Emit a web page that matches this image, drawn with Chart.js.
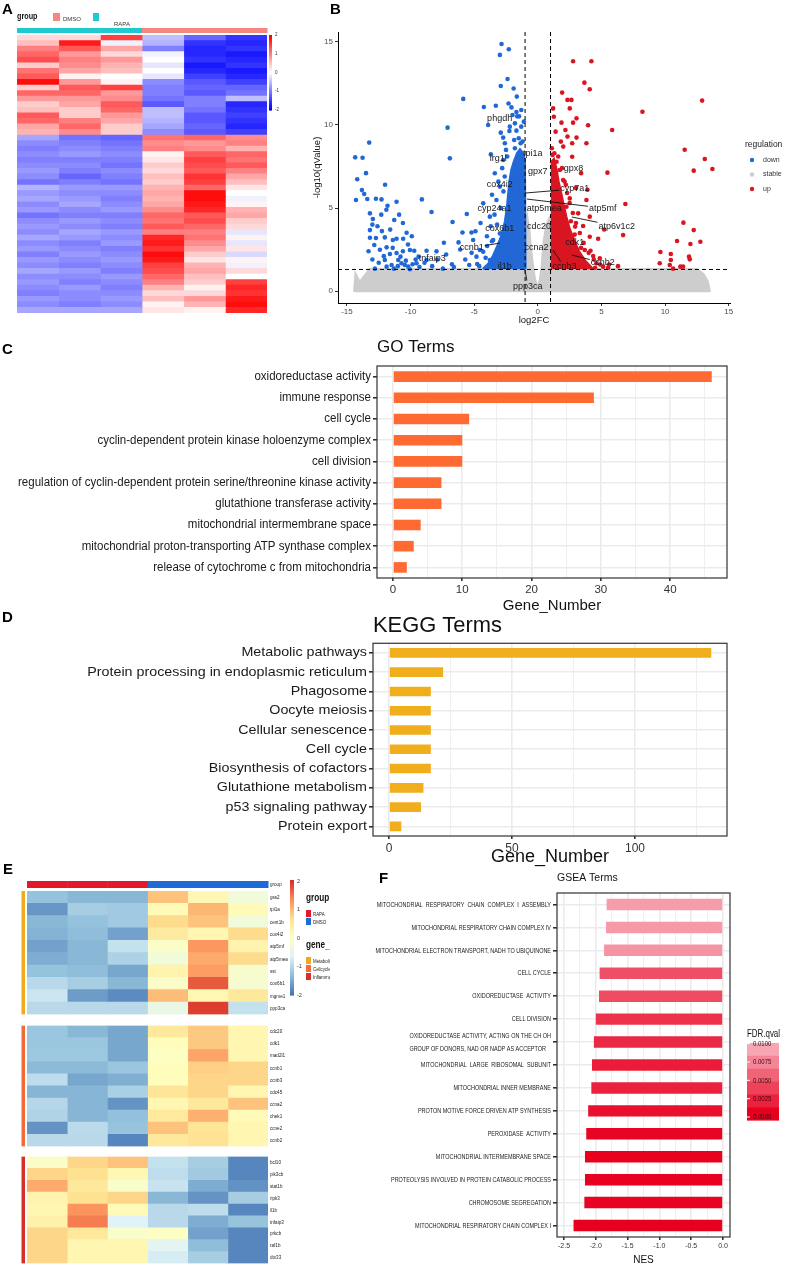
<!DOCTYPE html>
<html><head><meta charset="utf-8">
<script src="https://cdn.jsdelivr.net/npm/chart.js@4.4.1/dist/chart.umd.min.js"></script>
<style>
body{margin:0;background:#fff;}
#fig{position:relative;width:785px;height:1269px;overflow:hidden;background:#fff;}
canvas{position:absolute;}
.lab{position:absolute;font:bold 15px "Liberation Sans",Arial,sans-serif;color:#000;line-height:15px;}
</style></head><body>
<div id="fig">
<canvas id="cvA" width="290" height="318" style="left:0;top:0"></canvas>
<canvas id="cvB" width="495" height="326" style="left:290px;top:0"></canvas>
<canvas id="cvC" width="785" height="285" style="left:0;top:330px"></canvas>
<canvas id="cvD" width="785" height="258" style="left:0;top:610px"></canvas>
<canvas id="cvE1" width="330" height="158" style="left:0;top:862px"></canvas>
<canvas id="cvE2" width="330" height="132" style="left:0;top:1020px"></canvas>
<canvas id="cvE3" width="330" height="118" style="left:0;top:1151px"></canvas>
<canvas id="cvF" width="425" height="407" style="left:360px;top:862px"></canvas>
<div class="lab" style="left:2px;top:1px">A</div>
<div class="lab" style="left:330px;top:1px">B</div>
<div class="lab" style="left:2px;top:341px">C</div>
<div class="lab" style="left:2px;top:609px">D</div>
<div class="lab" style="left:3px;top:861px">E</div>
<div class="lab" style="left:379px;top:870px">F</div>
</div>
<script>
// ---------- panel A: heatmap of DEGs ----------
var samplesA = ['RAPA1', 'RAPA2', 'RAPA3', 'DMSO1', 'DMSO2', 'DMSO3'];
var groupA = ['RAPA', 'RAPA', 'RAPA', 'DMSO', 'DMSO', 'DMSO'];
var heatA = [
  [0.3, 0.3, 1.5, -0.5, -1.2, -1.6], [0.5, 1.8, -0.1, -0.6, -1.6, -1.7],
  [1.0, 1.3, 0.7, -1.0, -1.7, -1.6], [1.2, 0.8, 0.3, -0.1, -1.7, -1.8],
  [1.4, 1.0, 0.8, 0.0, -1.6, -1.7], [0.4, 0.9, 0.6, -0.2, -1.8, -1.6],
  [1.1, 0.7, 0.5, 0.0, -1.7, -1.8], [1.3, 0.1, 0.0, -0.2, -1.5, -1.7],
  [1.9, 0.8, 0.1, -0.9, -1.3, -1.5], [0.4, 1.3, 1.5, -1.0, -1.2, -1.2],
  [1.2, 1.2, 0.8, -1.0, -1.3, -1.1], [0.8, 0.8, 0.9, -1.1, -1.0, -0.5],
  [0.4, 0.7, 1.3, -1.3, -1.0, -1.7], [0.5, 0.4, 1.2, -0.5, -1.1, -1.6],
  [1.3, 0.4, 0.8, -0.5, -1.3, -1.5], [1.2, 1.0, 0.7, -0.6, -1.3, -1.6],
  [0.7, 1.2, 0.4, -0.7, -1.2, -1.7], [0.6, 0.9, 0.4, -0.9, -1.3, -1.5],
  [-0.7, -1.1, -1.2, 1.1, 1.2, 0.9], [-0.9, -1.0, -1.1, 0.9, 0.8, 1.0],
  [-1.0, -0.9, -1.0, 1.0, 0.9, 0.6], [-0.9, -0.8, -0.9, 0.1, 1.3, 1.2],
  [-1.0, -1.0, -1.0, 0.2, 1.5, 1.1], [-0.9, -0.9, -1.1, 0.4, 1.4, 1.3],
  [-0.8, -1.0, -0.9, 0.3, 1.3, 1.0], [-0.9, -1.2, -1.0, 0.5, 1.6, 0.7],
  [-1.1, -1.0, -1.1, 0.4, 1.5, 0.5], [-0.6, -0.8, -0.8, 0.6, 1.2, 0.2],
  [-0.8, -0.9, -0.9, 0.7, 1.9, 0.0], [-0.7, -0.8, -1.0, 0.6, 1.9, -0.1],
  [-0.9, -0.7, -0.9, 0.7, 1.8, 0.1], [-0.8, -0.9, -0.8, 0.9, 1.7, 0.6],
  [-1.1, -1.0, -1.0, 1.2, 1.3, 0.7], [-0.9, -0.8, -0.9, 1.1, 1.4, 0.4],
  [-0.8, -0.9, -1.0, 1.3, 1.2, 0.3], [-0.9, -0.7, -0.8, 1.0, 1.0, -0.2],
  [-0.7, -0.8, -0.9, 1.7, 1.1, 0.1], [-0.9, -1.0, -0.8, 1.8, 0.9, -0.2],
  [-0.8, -0.9, -1.0, 1.6, 0.7, 0.2], [-1.0, -0.8, -0.9, 1.9, 0.4, -0.3],
  [-0.8, -0.9, -0.8, 1.8, 0.2, 0.1], [-0.9, -1.0, -0.9, 1.5, 0.6, -0.1],
  [-0.7, -0.8, -1.0, 1.4, 0.7, 0.3], [-0.9, -0.9, -0.8, 1.2, 0.5, 0.0],
  [-0.8, -1.0, -0.9, 1.0, 0.4, 1.5], [-0.9, -0.8, -1.0, 0.6, 0.1, 1.7],
  [-1.0, -0.9, -0.9, 0.3, 0.3, 1.6], [-0.8, -0.9, -0.8, 0.5, 0.8, 1.8],
  [-0.9, -1.0, -0.9, 0.1, 0.6, 1.9], [-0.7, -0.7, -0.7, 0.2, 0.1, 1.7]
];
var scaleTicksA = [2, 1, 0, -1, -2];

// ---------- panel B: volcano ----------
var volcanoXTicks = [-15, -10, -5, 0, 5, 10, 15];
var volcanoYTicks = [0, 5, 10, 15];
var fcCut = 1, qCut = 1.3;
var stableEdge = [[-14.4, -0.05], [-14.3, 0.95], [-14.0, 0.5], [-13.6, 0.9], [-13.2, 1.3], [-12, 1.3], [-10, 1.3], [-8, 1.3],
  [-6, 1.3], [-4, 1.3], [-2, 1.3], [-1.05, 1.3], [-1.0, 4.0], [-0.85, 4.4], [-0.7, 3.6], [-0.55, 2.4], [-0.4, 1.4],
  [-0.25, 0.7], [-0.1, 0.35], [0.05, 0.3], [0.2, 0.7], [0.35, 1.6], [0.5, 3.0], [0.7, 4.0], [0.9, 4.3], [1.0, 3.8],
  [1.05, 1.3], [3, 1.3], [6, 1.3], [9, 1.3], [11, 1.3], [12.5, 1.3], [13.0, 1.0], [13.3, 0.6], [13.5, -0.05]];
var downDense = [[-4.3, 1.32], [-3.9, 1.6], [-3.5, 2.1], [-3.1, 2.8], [-2.8, 3.4], [-2.55, 4.2], [-2.4, 5.0], [-2.3, 5.8],
  [-2.2, 6.6], [-2.05, 7.3], [-1.85, 7.8], [-1.6, 8.3], [-1.4, 8.5], [-1.2, 8.3], [-1.05, 7.9], [-1.0, 1.32]];
var upDense = [[1.0, 7.7], [1.25, 7.9], [1.45, 7.3], [1.6, 6.6], [1.8, 5.9], [2.0, 5.2], [2.2, 4.5], [2.45, 3.8],
  [2.8, 3.1], [3.2, 2.4], [3.7, 1.8], [4.3, 1.32]];
var downPoints = [[-2.85, 14.88], [-2.28, 14.56], [-2.98, 14.22], [-2.38, 12.77], [-2.91, 12.35], [-5.86, 11.57],
  [-4.24, 11.08], [-3.3, 11.16], [-2.3, 11.29], [-1.65, 11.71], [-2.07, 11.06], [-1.68, 10.78], [-1.99, 10.6],
  [-1.62, 10.52], [-1.47, 10.52], [-7.09, 9.84], [-3.9, 10.0], [-2.91, 9.54], [-2.23, 9.64], [-1.68, 9.66],
  [-2.72, 9.24], [-1.86, 9.1], [-13.25, 8.94], [-14.35, 8.05], [-13.77, 8.03], [-6.91, 7.99], [-3.69, 8.23],
  [-14.19, 6.73], [-13.82, 6.08], [-13.64, 5.84], [-14.29, 5.48], [-13.4, 5.54], [-12.72, 5.56], [-12.28, 5.52],
  [-11.81, 5.14], [-9.11, 5.52], [-8.35, 4.76], [-11.1, 5.38], [-13.19, 4.68], [-12.96, 4.34], [-11.28, 4.28],
  [-10.6, 4.1], [-6.7, 4.16], [-5.58, 4.64], [-5.92, 3.53], [-5.21, 3.53], [-6.23, 2.93], [-7.38, 2.91],
  [-13.19, 3.67], [-13.19, 3.21], [-12.85, 2.77], [-12.41, 2.49], [-11.88, 2.63], [-11.39, 3.07], [-11.1, 3.15],
  [-10.58, 3.15], [-10.31, 3.51], [-12.25, 3.61], [-12.02, 3.23], [-12.72, 3.19], [-12.02, 1.87], [-11.62, 2.23],
  [-11.1, 2.29], [-10.79, 2.07], [-10.37, 1.83], [-10.05, 2.47], [-9.71, 2.43], [-9.37, 2.07], [-9.84, 1.61],
  [-8.74, 2.43], [-7.96, 2.39], [-8.74, 1.87], [-7.46, 1.35], [-6.75, 1.61], [-5.39, 1.57], [-4.76, 1.63],
  [-4.29, 2.37], [-3.98, 2.71], [-3.51, 3.07], [-5.08, 3.07], [-4.55, 2.47], [-12.8, 1.35], [-11.31, 1.35],
  [-10.05, 1.31], [-10.71, 1.67], [-10.45, 1.57], [-10.18, 1.47], [-9.53, 1.67], [-10.97, 1.87], [-11.49, 1.57],
  [-11.88, 1.47], [-4.29, 5.28], [-3.77, 4.48], [-3.25, 5.48], [-2.98, 6.29], [-3.38, 7.09], [-2.72, 7.89],
  [-2.59, 8.9], [-2.98, 3.47], [-3.77, 1.87], [-3.25, 1.67], [-4.82, 2.07], [-2.72, 2.27], [-2.59, 1.47],
  [-1.3, 9.9], [-1.5, 9.2], [-1.2, 9.0], [-1.8, 8.6], [-2.4, 8.1], [-2.6, 6.9], [-2.7, 6.0], [-2.9, 5.0],
  [-3.2, 4.0], [-3.6, 3.0], [-4.1, 2.0], [-4.6, 1.5], [-1.1, 10.2], [-1.35, 8.9],
  [-13.0, 4.0], [-12.6, 3.9], [-12.3, 4.6], [-11.9, 4.9], [-11.6, 3.7], [-11.4, 2.6], [-12.1, 2.1], [-12.5, 1.7],
  [-13.3, 2.4], [-13.0, 1.9], [-11.0, 1.5], [-10.6, 2.4], [-10.2, 2.8], [-9.9, 3.3], [-9.6, 1.9], [-9.3, 1.45],
  [-8.9, 1.7], [-8.3, 1.5], [-7.9, 1.9], [-7.2, 2.2], [-6.6, 1.45], [-6.1, 2.5], [-5.7, 1.9], [-5.2, 2.3],
  [-4.9, 3.6], [-4.5, 4.1], [-4.0, 3.3], [-3.7, 3.9], [-3.4, 4.6], [-3.6, 5.8], [-3.1, 6.6], [-2.8, 7.4],
  [-2.5, 8.5], [-2.2, 9.9], [-1.8, 10.1], [-1.3, 10.9], [-1.9, 12.2], [-12.0, 6.4], [-13.5, 7.1], [-10.9, 4.6]];
var upPoints = [[2.77, 13.84], [4.21, 13.84], [3.66, 12.55], [4.08, 12.15], [12.91, 11.47], [8.22, 10.8], [1.91, 11.95],
  [2.33, 11.51], [2.64, 11.51], [1.2, 11.0], [2.51, 11.0], [1.26, 10.5], [3.04, 10.4], [3.95, 9.98], [1.86, 10.14],
  [2.77, 10.14], [2.17, 9.7], [2.33, 9.3], [3.04, 9.24], [3.82, 8.9], [2.7, 8.9], [1.81, 9.0], [2.7, 8.09],
  [5.84, 9.7], [11.54, 8.51], [13.12, 7.95], [12.25, 7.25], [13.72, 7.35], [5.47, 7.13], [6.88, 5.24],
  [11.44, 4.12], [12.25, 3.67], [10.94, 3.01], [12.77, 2.97], [11.99, 2.83], [9.63, 2.35], [10.45, 2.23],
  [11.94, 1.91], [9.58, 1.67], [10.37, 1.57], [11.2, 1.47], [10.63, 1.35], [11.41, 1.47], [6.7, 3.37],
  [4.74, 3.15], [3.56, 3.92], [4.08, 3.27], [2.93, 3.88], [3.69, 2.47], [4.14, 2.43], [4.35, 2.11], [4.87, 1.97],
  [5.52, 1.41], [5.13, 1.47], [4.61, 1.67], [3.95, 1.47], [3.43, 1.77], [3.04, 2.13], [3.17, 4.68], [2.51, 5.58],
  [3.82, 5.48], [1.99, 6.69], [1.73, 7.29], [1.47, 7.79], [2.25, 5.08], [4.08, 4.48], [5.21, 3.71],
  [11.88, 2.07], [10.45, 1.87], [1.3, 8.3], [1.1, 8.6], [2.2, 6.4], [2.6, 4.2], [2.9, 3.4], [3.4, 2.6], [4.5, 1.4],
  [1.15, 8.2], [1.6, 8.1], [1.9, 7.4], [2.1, 6.6], [2.3, 5.9], [2.5, 5.3], [2.75, 4.7], [3.0, 4.1], [3.3, 3.5],
  [3.6, 2.9], [4.0, 2.3], [4.4, 1.9], [4.9, 1.6], [5.6, 1.6], [6.3, 1.5], [1.4, 9.6], [2.0, 8.7], [3.4, 7.1],
  [3.0, 6.2], [3.9, 6.1]];
var volcanoLabels = [
  { g: 'phgdh', x: -3.0, y: 10.36 }, { g: 'tpi1a', x: -0.4, y: 8.3 }, { g: 'irg1l', x: -3.1, y: 8.0 },
  { g: 'gpx7', x: 0.0, y: 7.17 }, { g: 'gpx8', x: 2.8, y: 7.35 }, { g: 'cox4i2', x: -3.0, y: 6.4 },
  { g: 'cyp7a1', x: 2.9, y: 6.15, px: -1.02, py: 5.9 }, { g: 'cyp24a1', x: -3.4, y: 5.0 },
  { g: 'atp5mea', x: 0.5, y: 5.0 }, { g: 'atp5mf', x: 5.1, y: 5.0, px: -0.86, py: 5.54 },
  { g: 'cdc20', x: 0.1, y: 3.9 }, { g: 'cox6b1', x: -3.0, y: 3.74 },
  { g: 'atp6v1c2', x: 6.2, y: 3.9, px: 2.67, py: 4.46 }, { g: 'ccnb1', x: -5.2, y: 2.6, px: -2.98, py: 2.89 },
  { g: 'ccna2', x: -0.1, y: 2.6 }, { g: 'cdk1', x: 2.9, y: 2.9 }, { g: 'tnfaip3', x: -8.3, y: 1.94 },
  { g: 'il1b', x: -2.6, y: 1.5 }, { g: 'ccnb2', x: 5.1, y: 1.7, px: 2.67, py: 2.17 },
  { g: 'ccnb3', x: 2.1, y: 1.45, px: 1.18, py: 2.47 }, { g: 'ppp3ca', x: -0.79, y: 0.3, px: -1.02, py: 1.33 }
];
var regulationLevels = ['down', 'stable', 'up'];

// ---------- panel C: GO ----------
var goTerms = ['oxidoreductase activity', 'immune response', 'cell cycle',
  'cyclin-dependent protein kinase holoenzyme complex', 'cell division',
  'regulation of cyclin-dependent protein serine/threonine kinase activity', 'glutathione transferase activity',
  'mitochondrial intermembrane space', 'mitochondrial proton-transporting ATP synthase complex',
  'release of cytochrome c from mitochondria'];
var goCounts = [46, 29, 11, 10, 10, 7, 7, 4, 3, 2];
var goTicks = [0, 5, 10, 15, 20, 25, 30, 35, 40, 45];

// ---------- panel D: KEGG ----------
var keggTerms = ['Metabolic pathways', 'Protein processing in endoplasmic reticulum', 'Phagosome', 'Oocyte meiosis',
  'Cellular senescence', 'Cell cycle', 'Biosynthesis of cofactors', 'Glutathione metabolism',
  'p53 signaling pathway', 'Protein export'];
var keggCounts = [131, 22, 17, 17, 17, 17, 17, 14, 13, 5];
var keggTicks = [0, 25, 50, 75, 100, 125];

// ---------- panel E: selected genes ----------
var groupE = ['RAPA', 'RAPA', 'RAPA', 'DMSO', 'DMSO', 'DMSO'];
var metabGenes = ['gss2', 'tpi1a', 'cent1b', 'cox4i2', 'atp5mf', 'atp5mea', 'sst', 'cox6b1', 'mgme1', 'ppp3ca'];
var metabVals = [
  [-1.3, -1.4, -1.4, 0.9, 0.15, -0.3], [-1.7, -1.15, -1.2, 0.1, 1.0, 0.1], [-1.4, -1.3, -1.2, 0.7, 0.9, -0.3],
  [-1.45, -1.35, -1.6, 0.45, 0.2, 0.7], [-1.6, -1.4, -0.9, -0.1, 1.25, 0.25], [-1.5, -1.4, -1.1, -0.3, 1.1, 0.7],
  [-1.3, -1.35, -1.55, 0.25, 1.2, -0.15], [-1.0, -1.15, -1.4, -0.1, 1.7, -0.2], [-0.85, -1.65, -1.8, 0.95, 0.15, 0.5],
  [-1.0, -1.0, -1.0, -0.45, 1.9, -0.9]];
var cycleGenes = ['cdc20', 'cdk1', 'mad2l1', 'ccnb1', 'ccnb3', 'cdc45', 'ccna2', 'chek1', 'ccne2', 'ccnb2'];
var cycleVals = [
  [-1.25, -1.4, -1.55, 0.5, 0.85, 0.2], [-1.25, -1.25, -1.55, 0.05, 0.85, 0.2], [-1.22, -1.22, -1.55, -0.05, 1.15, 0.2],
  [-1.38, -1.38, -1.25, 0.05, 0.8, 0.75], [-0.95, -1.55, -1.48, 0.05, 0.75, 0.75], [-1.42, -1.42, -1.12, 0.55, 0.75, 0.2],
  [-1.02, -1.42, -1.72, 0.2, 0.5, 0.9], [-1.07, -1.42, -1.32, 0.48, 1.05, 0.1], [-1.72, -0.98, -1.28, 0.9, 0.55, 0.2],
  [-1.0, -1.0, -1.85, 0.5, 0.6, 0.2]];
var inflamGenes = ['bcl10', 'pik3cb', 'stat1b', 'ripk3', 'il1b', 'tnfaip3', 'prkcb', 'raf1b', 'dtx33'];
var inflamVals = [
  [-0.1, 0.75, 0.9, -0.9, -1.15, -1.85], [0.75, 0.65, 0.15, -0.95, -1.2, -1.85], [1.1, 0.5, -0.12, -0.87, -1.5, -1.75],
  [0.25, 0.65, 0.75, -1.4, -1.72, -1.15], [0.2, 1.28, 0.1, -1.0, -0.95, -1.85], [0.3, 1.45, -0.65, -1.0, -1.5, -1.28],
  [0.75, 0.5, -0.12, -0.05, -1.6, -1.85], [0.75, 0.2, 0.2, -0.6, -1.35, -1.85], [0.75, 0.2, 0.2, -0.75, -1.15, -1.85]];
var geneTypes = ['Metabolism', 'Cellcycle', 'Inflammation'];

// ---------- panel F: GSEA ----------
var gseaTerms = ['MITOCHONDRIAL  RESPIRATORY  CHAIN  COMPLEX  I  ASSEMBLY', 'MITOCHONDRIAL RESPIRATORY CHAIN COMPLEX IV',
  'MITOCHONDRIAL ELECTRON TRANSPORT, NADH TO UBIQUINONE', 'CELL CYCLE', 'OXIDOREDUCTASE  ACTIVITY', 'CELL DIVISION',
  ['OXIDOREDUCTASE ACTIVITY, ACTING ON THE CH OH', 'GROUP OF DONORS, NAD OR NADP AS ACCEPTOR'],
  'MITOCHONDRIAL  LARGE  RIBOSOMAL  SUBUNIT', 'MITOCHONDRIAL INNER MEMBRANE', 'PROTON MOTIVE FORCE DRIVEN ATP SYNTHESIS',
  'PEROXIDASE  ACTIVITY', 'MITOCHONDRIAL INTERMEMBRANE SPACE', 'PROTEOLYSIS INVOLVED IN PROTEIN CATABOLIC PROCESS',
  'CHROMOSOME SEGREGATION', 'MITOCHONDRIAL RESPIRATORY CHAIN COMPLEX I'];
var gseaNES = [-1.83, -1.84, -1.87, -1.94, -1.95, -2.0, -2.03, -2.06, -2.07, -2.12, -2.15, -2.17, -2.17, -2.18, -2.35];
var gseaFDR = [0.0099, 0.0097, 0.0093, 0.005, 0.0048, 0.0032, 0.0026, 0.0018, 0.0021, 0.001, 0.0003, 0.0001, 0.0001, 0.0002, 0.0];
var gseaTicks = [-2.5, -2.25, -2, -1.75, -1.5, -1.25, -1, -0.75, -0.5, -0.25, 0];
var fdrLegend = [0.01, 0.0075, 0.005, 0.0025, 0];

// ---------- fonts ----------
var mctx = document.createElement('canvas').getContext('2d');
var SANS = '"Liberation Sans", Arial, sans-serif';
function textW(text, size, family, weight) {
  mctx.font = (weight || 'normal') + ' ' + size + 'px ' + (family || SANS);
  return mctx.measureText(text).width;
}
function fitSize(text, family, width, weight) { return 100 * width / textW(text, 100, family, weight); }

Chart.defaults.animation = false;
Chart.defaults.responsive = false;
Chart.defaults.plugins.legend.display = false;
Chart.defaults.plugins.tooltip.enabled = false;
Chart.defaults.font.family = SANS;
Chart.defaults.color = '#333';

// draw text squeezed horizontally (the original uses a narrow face)
function narrowText(ctx, t, x, y, sx, align) {
  ctx.save(); ctx.translate(x, y); ctx.scale(sx, 1);
  ctx.textAlign = align || 'left'; ctx.fillText(t, 0, 0); ctx.restore();
}

// ---------- colour helpers ----------
function hex2rgb(h) { return [parseInt(h.substr(1, 2), 16), parseInt(h.substr(3, 2), 16), parseInt(h.substr(5, 2), 16)]; }
function ramp(stops, t) {
  t = Math.max(0, Math.min(1, t));
  var n = stops.length - 1, i = Math.min(n - 1, Math.floor(t * n)), f = t * n - i;
  var a = hex2rgb(stops[i]), b = hex2rgb(stops[i + 1]);
  return 'rgb(' + a.map(function (v, k) { return Math.round(v + (b[k] - v) * f); }).join(',') + ')';
}
var bwr = ['#0000ff', '#ffffff', '#ff0000'];
var rdylbu = ['#4575b4', '#91bfdb', '#e0f3f8', '#ffffbf', '#fee090', '#fc8d59', '#d73027'];
function colA(v) { return ramp(bwr, (v + 2) / 4); }
function colE(v) { return ramp(rdylbu, (v + 2) / 4); }
function fdrColor(v) { return ramp(['#e8001f', '#f7a6b4'], v / 0.0105); }

var groupColorsA = { RAPA: '#1ec9cf', DMSO: '#f4877f' };
var groupColorsE = { RAPA: '#e2182b', DMSO: '#1f6ad6' };
var typeColors = { Metabolism: '#f0aa1e', Cellcycle: '#f26b3b', Inflammation: '#d7302a' };
var BLUE = '#2168d6', RED = '#da1522', GREY = '#cdcdcd';

// ---------- heatmap builder ----------
var geneFont = 6;
var geneSX = Math.min(1, 15 / textW('mad2l1', geneFont));
function heatmap(id, rows, labels, colorOf, padding, showLabels, plugins) {
  var datasets = [];
  for (let c = 0; c < 6; c++) {
    datasets.push({
      label: 's' + c,
      data: rows.map(function () { return [c, c + 1]; }),
      backgroundColor: rows.map(function (r) { return colorOf(r[c]); }),
      borderWidth: 0, barPercentage: 1, categoryPercentage: 1, grouped: false, inflateAmount: 0.4
    });
  }
  var extra = [];
  if (showLabels) {
    extra.push({
      id: 'geneLabels',
      afterDraw: function (ch) {
        var ys = ch.scales.y, ctx = ch.ctx;
        ctx.save(); ctx.font = geneFont + 'px ' + SANS; ctx.fillStyle = '#222'; ctx.textBaseline = 'middle';
        ys.getLabels().forEach(function (l, i) { narrowText(ctx, l, ch.chartArea.right + 2, ys.getPixelForValue(i), geneSX); });
        ctx.restore();
      }
    });
  }
  return new Chart(document.getElementById(id), {
    type: 'bar',
    data: { labels: labels, datasets: datasets },
    options: {
      indexAxis: 'y',
      layout: { padding: padding },
      scales: {
        x: { type: 'linear', min: 0, max: 6, display: false },
        y: showLabels ? {
          position: 'right',
          grid: { display: false, drawTicks: false },
          border: { display: false },
          ticks: { autoSkip: false, padding: 2, color: 'rgba(0,0,0,0)', font: { size: geneFont } },
          afterFit: function (s) { s.width = 62; }
        } : { display: false }
      }
    },
    plugins: (plugins || []).concat(extra)
  });
}

function colorBar(ctx, x, y0, y1, w, fn, steps) {
  for (var i = 0; i < steps; i++) {
    ctx.fillStyle = fn(1 - i / (steps - 1));
    ctx.fillRect(x, y0 + (y1 - y0) * i / steps, w, (y1 - y0) / steps + 0.6);
  }
}

// ---------- A ----------
heatmap('cvA', heatA, heatA.map(function (r, i) { return 'gene' + i; }), colA,
  { left: 17, right: 23, top: 35, bottom: 5 }, false, [{
    id: 'annA',
    afterDraw: function (ch) {
      var ctx = ch.ctx, xs = ch.scales.x;
      groupA.forEach(function (g, c) {
        var x0 = xs.getPixelForValue(c), x1 = xs.getPixelForValue(c + 1);
        ctx.fillStyle = groupColorsA[g];
        ctx.fillRect(x0, 28, x1 - x0 + 0.5, 5);
      });
      ctx.textBaseline = 'middle';
      ctx.fillStyle = '#111';
      ctx.font = 'bold 8.5px ' + SANS;
      narrowText(ctx, 'group', 17, 17, 0.85);
      ctx.fillStyle = groupColorsA.DMSO; ctx.fillRect(53, 13, 7, 8);
      ctx.fillStyle = groupColorsA.RAPA; ctx.fillRect(93, 13, 6, 8);
      ctx.fillStyle = '#333'; ctx.font = '6px ' + SANS;
      ctx.fillText('DMSO', 63, 19);
      ctx.fillText('RAPA', 114, 24);
      colorBar(ctx, 269, 35, 110, 3, function (t) { return colA(t * 4 - 2); }, 40);
      ctx.font = '4.5px ' + SANS; ctx.fillStyle = '#333';
      scaleTicksA.forEach(function (v) { ctx.fillText(String(v), 275, 35 + (2 - v) / 4 * 75); });
    }
  }]);

// ---------- B ----------
function pts(a) { return a.map(function (p) { return { x: p[0], y: p[1] }; }); }
var volcanoPlugin = {
  id: 'volc',
  afterDatasetsDraw: function (ch) {
    var ctx = ch.ctx, xs = ch.scales.x, ys = ch.scales.y, ca = ch.chartArea;
    ctx.save();
    ctx.strokeStyle = '#000'; ctx.lineWidth = 1; ctx.setLineDash([4, 3]);
    [-fcCut, fcCut].forEach(function (v) {
      var x = xs.getPixelForValue(v);
      ctx.beginPath(); ctx.moveTo(x, ca.top); ctx.lineTo(x, ca.bottom); ctx.stroke();
    });
    var yq = ys.getPixelForValue(qCut);
    ctx.beginPath(); ctx.moveTo(ca.left, yq); ctx.lineTo(ca.right, yq); ctx.stroke();
    ctx.setLineDash([]);
    ctx.font = '9px ' + SANS; ctx.textAlign = 'center'; ctx.textBaseline = 'middle';
    volcanoLabels.forEach(function (l) {
      var cx = xs.getPixelForValue(l.x), cy = ys.getPixelForValue(l.y);
      if (l.px !== undefined) {
        var px = xs.getPixelForValue(l.px), py = ys.getPixelForValue(l.py);
        var hw = ctx.measureText(l.g).width / 2 + 1, hh = 5.5;
        var dx = px - cx, dy = py - cy;
        var t = Math.min(dx ? hw / Math.abs(dx) : 1e9, dy ? hh / Math.abs(dy) : 1e9);
        ctx.strokeStyle = '#111'; ctx.lineWidth = 0.9;
        ctx.beginPath(); ctx.moveTo(cx + dx * t, cy + dy * t); ctx.lineTo(px, py); ctx.stroke();
      }
      ctx.fillStyle = '#1a1a1a';
      ctx.fillText(l.g, cx, cy);
    });
    ctx.textAlign = 'left';
    ctx.font = '8.5px ' + SANS; ctx.fillStyle = '#222';
    ctx.fillText('regulation', 455, 145);
    var cols = { down: BLUE, stable: GREY, up: RED };
    ctx.font = '7px ' + SANS;
    regulationLevels.forEach(function (r, i) {
      var y = 160 + i * 14.5;
      ctx.fillStyle = cols[r]; ctx.beginPath(); ctx.arc(462, y, 2.2, 0, Math.PI * 2); ctx.fill();
      ctx.fillStyle = '#333'; ctx.fillText(r, 473, y);
    });
    ctx.restore();
  }
};
new Chart(document.getElementById('cvB'), {
  type: 'scatter',
  data: {
    datasets: [
      { type: 'line', data: pts(stableEdge), fill: { value: -0.08 }, backgroundColor: GREY, borderColor: GREY, borderWidth: 3, pointRadius: 0, tension: 0, order: 5 },
      { type: 'line', data: pts(downDense), fill: { value: qCut + 0.02 }, backgroundColor: BLUE, borderColor: BLUE, borderWidth: 3, pointRadius: 0, tension: 0, order: 4 },
      { type: 'line', data: pts(upDense), fill: { value: qCut + 0.02 }, backgroundColor: RED, borderColor: RED, borderWidth: 3, pointRadius: 0, tension: 0, order: 4 },
      { data: pts(downPoints), backgroundColor: BLUE, borderWidth: 0, pointRadius: 2.3, order: 1 },
      { data: pts(upPoints), backgroundColor: RED, borderWidth: 0, pointRadius: 2.3, order: 1 }
    ]
  },
  options: {
    layout: { padding: { top: 32, right: 55, left: 0, bottom: 0 } },
    scales: {
      x: {
        type: 'linear', min: -15.7, max: 15.1,
        afterBuildTicks: function (a) { a.ticks = volcanoXTicks.map(function (v) { return { value: v }; }); },
        afterFit: function (s) { s.height = 23; },
        grid: { drawOnChartArea: false, tickLength: 3, tickColor: '#333' },
        border: { color: '#000', width: 1 },
        ticks: { font: { size: 8 }, color: '#4d4d4d', padding: 1, maxRotation: 0 },
        title: { display: true, text: 'log2FC', font: { size: 9.5 }, color: '#111', padding: { top: 0, bottom: 0 } }
      },
      y: {
        min: -0.72, max: 15.6,
        afterBuildTicks: function (a) { a.ticks = volcanoYTicks.map(function (v) { return { value: v }; }); },
        afterFit: function (s) { s.width = 48; },
        grid: { drawOnChartArea: false, tickLength: 3, tickColor: '#333' },
        border: { color: '#000', width: 1 },
        ticks: { font: { size: 8 }, color: '#4d4d4d', padding: 2 },
        title: { display: true, text: '-log10(qValue)', font: { size: 9.5 }, color: '#111', padding: { top: 22, bottom: 0 } }
      }
    }
  },
  plugins: [volcanoPlugin]
});

// ---------- bar panels ----------
var boxPlugin = {
  id: 'box',
  afterDraw: function (ch) {
    var ca = ch.chartArea, ctx = ch.ctx;
    ctx.save(); ctx.strokeStyle = '#333'; ctx.lineWidth = 1.2;
    ctx.strokeRect(ca.left, ca.top, ca.right - ca.left, ca.bottom - ca.top);
    ctx.restore();
  }
};
function barPanel(id, o) {
  var sx = o.labelSX || 1;
  var labelPlugin = {
    id: 'yLabels',
    afterDraw: function (ch) {
      var ys = ch.scales.y, ctx = ch.ctx, xr = ys.right - 6;
      ctx.save(); ctx.font = o.labelSize + 'px ' + SANS; ctx.fillStyle = '#1a1a1a'; ctx.textBaseline = 'middle';
      ys.getLabels().forEach(function (lab, i) {
        var y = ys.getPixelForValue(i);
        if (Array.isArray(lab)) {
          var w = Math.max.apply(null, lab.map(function (t) { return ctx.measureText(t).width; })) * sx;
          lab.forEach(function (t, k) {
            narrowText(ctx, t, xr - w, y + (k - (lab.length - 1) / 2) * o.labelSize * 1.6, sx, 'left');
          });
        } else {
          narrowText(ctx, lab, xr, y, sx, 'right');
        }
      });
      ctx.restore();
    }
  };
  return new Chart(document.getElementById(id), {
    type: 'bar',
    data: { labels: o.labels, datasets: [{ data: o.values, backgroundColor: o.colors, barPercentage: 0.5, categoryPercentage: 1 }] },
    options: {
      indexAxis: 'y',
      layout: { padding: { right: o.right, top: 0, bottom: 0, left: 0 } },
      plugins: {
        title: { display: true, text: o.title, align: 'start', fullSize: false, color: '#111',
          font: { size: o.titleSize, weight: 'normal' }, padding: o.titlePad }
      },
      scales: {
        x: {
          min: o.min, max: o.max,
          afterBuildTicks: function (a) { a.ticks = o.ticks.map(function (v) { return { value: v }; }); },
          afterFit: function (s) { s.height = o.xh; },
          grid: {
            color: '#ebebeb', tickLength: 3,
            lineWidth: function (c) { return c.tick && o.major(c.tick.value) ? 1.6 : 0.8; },
            tickColor: function (c) { return c.tick && o.major(c.tick.value) ? '#333' : 'rgba(0,0,0,0)'; }
          },
          border: { display: false },
          ticks: { autoSkip: false, maxRotation: 0, padding: 2, color: '#333', font: { size: o.tickSize },
            callback: function (v) { return o.major(v) ? o.fmt(v) : ''; } },
          title: { display: true, text: o.xtitle, color: '#111', font: { size: o.xtitleSize }, padding: { top: 0, bottom: o.xtitlePad } }
        },
        y: {
          afterFit: function (s) { s.width = o.yw; },
          grid: { color: '#ebebeb', lineWidth: 1.6, offset: false, tickColor: '#333', tickLength: 4 },
          border: { display: false },
          ticks: { autoSkip: false, padding: 2, color: 'rgba(0,0,0,0)', font: { size: o.labelSize } }
        }
      }
    },
    plugins: [boxPlugin, labelPlugin].concat(o.plugins || [])
  });
}

barPanel('cvC', {
  labels: goTerms, values: goCounts, colors: '#ff6a33', right: 58, yw: 377, xh: 37,
  min: -2.3, max: 48.2, ticks: goTicks,
  major: function (v) { return v % 10 === 0; }, fmt: function (v) { return String(v); },
  title: 'GO Terms', titleSize: 17, titlePad: { top: 7, bottom: 8.6 },
  tickSize: 11.5,
  xtitle: 'Gene_Number', xtitleSize: 15, xtitlePad: 0,
  labelSize: 12.5, labelSX: 353 / textW(goTerms[5], 12.5)
});

barPanel('cvD', {
  labels: keggTerms, values: keggCounts, colors: '#f0ad1c', right: 58, yw: 373, xh: 32,
  min: -6.5, max: 137.4, ticks: keggTicks,
  major: function (v) { return v % 50 === 0; }, fmt: function (v) { return String(v); },
  title: 'KEGG Terms', titleSize: Math.min(22, fitSize('KEGG Terms', SANS, 129)), titlePad: { top: 3, bottom: 4 },
  tickSize: 12,
  xtitle: 'Gene_Number', xtitleSize: Math.min(18, fitSize('Gene_Number', SANS, 121)), xtitlePad: 0,
  labelSize: 13, labelSX: Math.min(1.1, 290 / textW(keggTerms[1], 13))
});

var fdrLegendPlugin = {
  id: 'fdrLeg',
  afterDraw: function (ch) {
    var ctx = ch.ctx;
    ctx.save();
    ctx.fillStyle = '#111'; ctx.textBaseline = 'middle';
    ctx.font = '11px ' + SANS;
    narrowText(ctx, 'FDR.qval', 387, 172, 0.72);
    colorBar(ctx, 387, 181, 258, 32, function (t) { return fdrColor(t * 0.0105); }, 6);
    ctx.font = '8px ' + SANS;
    fdrLegend.forEach(function (v) {
      var y = 258 - (v / 0.0105) * 77 - 3;
      ctx.fillStyle = '#fff'; ctx.fillRect(387, y - 0.5, 3, 1);
      ctx.fillStyle = '#3a0a10'; narrowText(ctx, v.toFixed(4), 393, y, 0.75);
    });
    ctx.restore();
  }
};
barPanel('cvF', {
  labels: gseaTerms, values: gseaNES, colors: gseaFDR.map(fdrColor), right: 55, yw: 197, xh: 32,
  min: -2.61, max: 0.11, ticks: gseaTicks,
  major: function (v) { return Math.abs(v * 2 - Math.round(v * 2)) < 1e-6; }, fmt: function (v) { return v.toFixed(1); },
  title: 'GSEA Terms', titleSize: 10.5, titlePad: { top: 10, bottom: 8.4 },
  tickSize: 7,
  xtitle: 'NES', xtitleSize: 10, xtitlePad: 3,
  labelSize: 8, labelSX: 160 / textW(gseaTerms[12], 8),
  plugins: [fdrLegendPlugin]
});

// ---------- E ----------
function sideStrip(type) {
  return {
    id: 'strip' + type,
    afterDraw: function (ch) {
      var ca = ch.chartArea;
      ch.ctx.fillStyle = typeColors[type];
      ch.ctx.fillRect(21.5, ca.top, 3.5, ca.bottom - ca.top);
    }
  };
}
var legendE = {
  id: 'legE',
  afterDraw: function (ch) {
    var ctx = ch.ctx, xs = ch.scales.x, ca = ch.chartArea;
    ctx.save();
    groupE.forEach(function (g, c) {
      var x0 = xs.getPixelForValue(c), x1 = xs.getPixelForValue(c + 1);
      ctx.fillStyle = groupColorsE[g];
      ctx.fillRect(x0, 19, x1 - x0 + 0.5, 7);
    });
    ctx.textBaseline = 'middle'; ctx.fillStyle = '#222';
    ctx.font = geneFont + 'px ' + SANS;
    narrowText(ctx, 'group', ca.right + 2, 22.5, geneSX);
    colorBar(ctx, 290, 18, 133, 4, function (t) { return colE(t * 4 - 2); }, 60);
    ctx.fillStyle = '#333'; ctx.font = '5.5px ' + SANS;
    [2, 1, 0, -1, -2].forEach(function (v) { ctx.fillText(String(v), 297, 19 + (2 - v) / 4 * 114); });
    ctx.fillStyle = '#111'; ctx.font = 'bold 10.5px ' + SANS;
    narrowText(ctx, 'group', 306, 36, 0.78);
    narrowText(ctx, 'gene_type', 306, 83, 0.78);
    ctx.font = '5.5px ' + SANS;
    ['RAPA', 'DMSO'].forEach(function (g, i) {
      ctx.fillStyle = groupColorsE[g]; ctx.fillRect(306, 48 + i * 8, 5, 7);
      ctx.fillStyle = '#222'; narrowText(ctx, g, 313, 52 + i * 8, 0.8);
    });
    geneTypes.forEach(function (g, i) {
      ctx.fillStyle = typeColors[g]; ctx.fillRect(306, 95 + i * 8, 5, 7);
      ctx.fillStyle = '#222'; narrowText(ctx, g, 313, 99 + i * 8, 0.8);
    });
    ctx.restore();
  }
};
heatmap('cvE1', metabVals, metabGenes, colE, { left: 27, top: 29, bottom: 1, right: 0 }, true, [sideStrip('Metabolism'), legendE]);
heatmap('cvE2', cycleVals, cycleGenes, colE, { left: 27, top: 2, bottom: 1, right: 0 }, true, [sideStrip('Cellcycle')]);
heatmap('cvE3', inflamVals, inflamGenes, colE, { left: 27, top: 2, bottom: 1, right: 0 }, true, [sideStrip('Inflammation')]);
</script>
</body></html>
